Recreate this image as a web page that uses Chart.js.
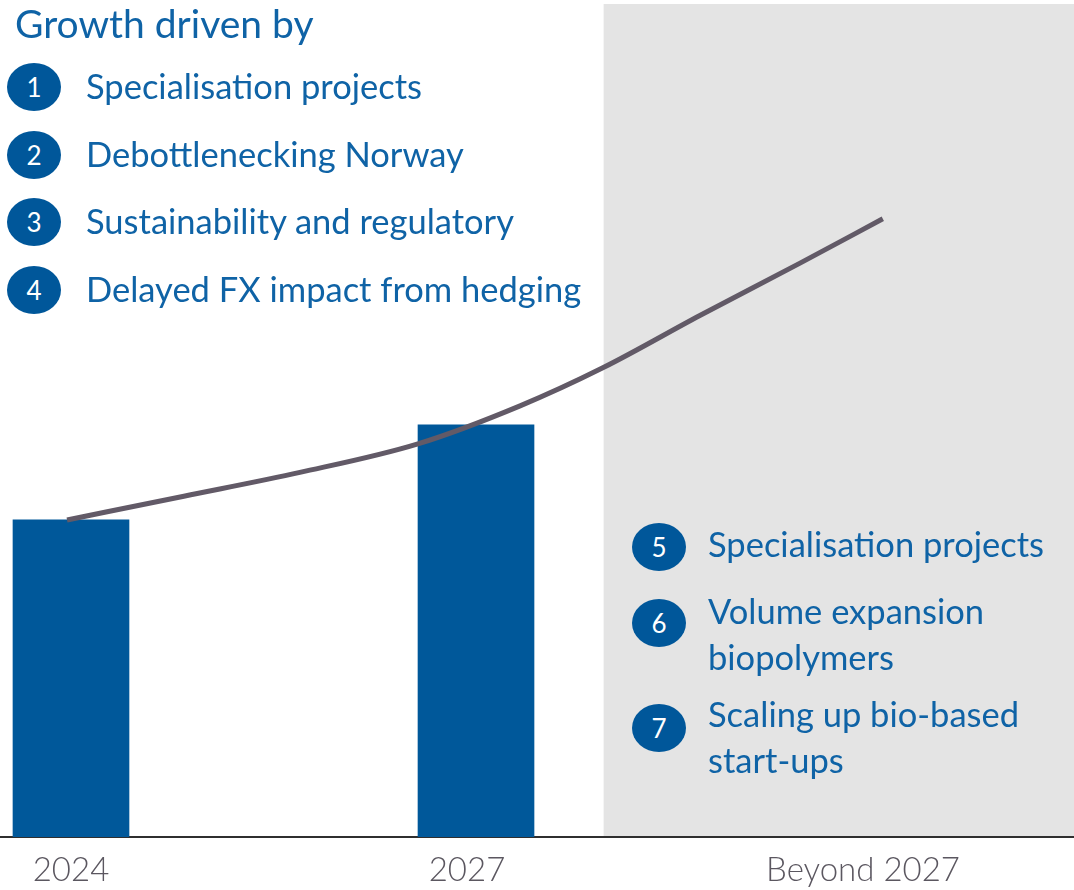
<!DOCTYPE html>
<html>
<head>
<meta charset="utf-8">
<script src="https://cdn.jsdelivr.net/npm/chart.js@4"></script>
<style>
  body { margin: 0; background: #fff; font-family: Lato, "Open Sans", sans-serif; }
  #wrap { position: relative; width: 1074px; height: 890px; overflow: hidden; }
  #wrap canvas { position: absolute; left: 0; top: 0; }
  .txt { position: absolute; color: #0f63a6; font-size: 34.5px; white-space: nowrap; line-height: 46px; }
  .num { position: absolute; width: 54px; height: 48px; border-radius: 50%; background: #00579a;
         color: #fff; font-size: 26px; display: flex; align-items: center; justify-content: center; }
  #title { position: absolute; left: 15px; top: 0px; color: #0f63a6; font-size: 39px; white-space: nowrap; }
</style>
</head>
<body>
<div id="wrap">
  <canvas id="growthChart" width="1074" height="890"></canvas>
  <div id="title">Growth driven by</div>
  <div id="notes"></div>
</div>
<script>
// categories on the x axis
let periods = ['2024', '2027', 'Beyond 2027'];
// bar heights (index, 2024 = 100)
let barValues = [100, 130];
// growth curve (x in category units)
let curveX = [-0.01, 0.285, 0.578, 0.876, 1.134, 1.343, 1.588, 1.841, 2.05];
let curveY = [100, 107.5, 115, 124, 136, 148, 164.5, 181, 195];

let leftDrivers = ['Specialisation projects', 'Debottlenecking Norway', 'Sustainability and regulatory', 'Delayed FX impact from hedging'];
let rightDrivers = ['Specialisation projects', 'Volume expansion<br>biopolymers', 'Scaling up bio-based<br>start-ups'];

// notes as html text
let notes = document.getElementById('notes');
let leftY = [87, 155, 222, 290];
leftDrivers.forEach((t, i) => {
    notes.innerHTML += '<div class="num" style="left:7px;top:' + (leftY[i] - 24) + 'px">' + (i + 1) + '</div>';
    notes.innerHTML += '<div class="txt" style="left:86px;top:' + (leftY[i] - 24) + 'px">' + t + '</div>';
});
let rightCircleY = [547, 623, 728];
let rightTextY = [545, 612, 715];
rightDrivers.forEach((t, i) => {
    notes.innerHTML += '<div class="num" style="left:632px;top:' + (rightCircleY[i] - 24) + 'px">' + (i + 5) + '</div>';
    notes.innerHTML += '<div class="txt" style="left:708px;top:' + (rightTextY[i] - 24) + 'px">' + t + '</div>';
});

// grey panel behind the "beyond" part
const shadePlugin = {
    id: 'shade',
    beforeDraw(chart) {
        let ctx = chart.ctx;
        let x0 = chart.scales.x.getPixelForValue(1.345);
        ctx.save();
        ctx.fillStyle = '#e4e4e4';
        ctx.fillRect(x0, 4, chart.chartArea.right - x0, chart.chartArea.bottom - 4);
        ctx.restore();
    }
};

let ctx = document.getElementById('growthChart').getContext('2d');
let growthChart = new Chart(ctx, {
    type: 'bar',
    data: {
        datasets: [{
            type: 'line',
            data: curveX.map((x, i) => ({ x: x, y: curveY[i] })),
            borderColor: '#625a67',
            borderWidth: 5,
            pointRadius: 0,
            cubicInterpolationMode: 'monotone',
            xAxisID: 'x',
            order: 0
        }, {
            type: 'bar',
            data: barValues.map((v, i) => ({ x: i, y: v })),
            backgroundColor: '#00589a',
            barThickness: 116,
            grouped: false,
            xAxisID: 'xb',
            order: 1
        }]
    },
    plugins: [shadePlugin],
    options: {
        responsive: false,
        animation: false,
        layout: { padding: 0 },
        plugins: { legend: { display: false }, tooltip: { enabled: false } },
        scales: {
            x: {
                type: 'linear',
                min: -0.1793,
                max: 2.5328,
                offset: false,
                grid: { display: false, drawTicks: false },
                border: { display: true, color: '#2f2f2f', width: 2 },
                afterBuildTicks: s => { s.ticks = periods.map((p, i) => ({ value: i })); },
                afterFit: s => { s.height = 53; },
                ticks: {
                    callback: v => periods[v],
                    color: '#5b5760',
                    padding: 14,
                    font: { family: 'Lato', size: 33, weight: '300' },
                    maxRotation: 0
                }
            },
            // bars sit a little off the label centres in the original
            xb: {
                type: 'linear',
                display: false,
                min: -0.1753,
                max: 2.4765,
                offset: false
            },
            y: { display: false, min: 0, max: 264 }
        }
    }
});
</script>
</body>
</html>
